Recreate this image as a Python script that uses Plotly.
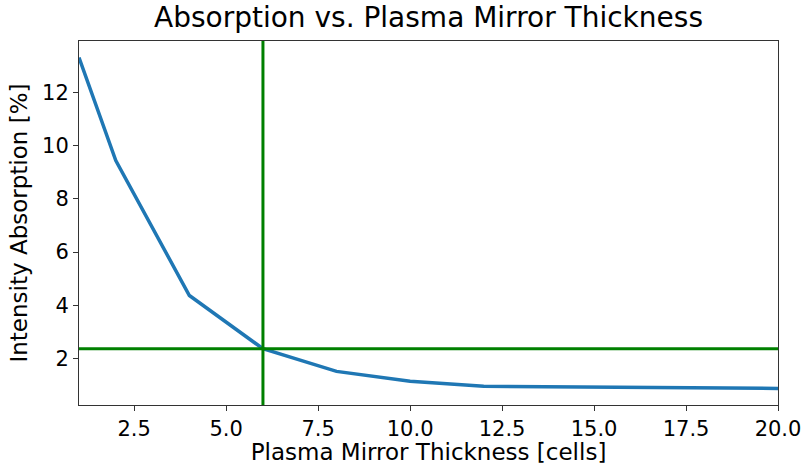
import plotly.graph_objects as go

# Absorption of intensity versus plasma mirror thickness
thickness_cells = [1, 2, 4, 6, 8, 10, 12, 20]
absorption_pct = [13.3, 9.43, 4.37, 2.37, 1.52, 1.15, 0.96, 0.88]

# Chosen operating point (thickness and its absorption)
chosen_thickness = 6
chosen_absorption = 2.37

x_ticks = [2.5, 5.0, 7.5, 10.0, 12.5, 15.0, 17.5, 20.0]
y_ticks = [2, 4, 6, 8, 10, 12]

FONT = "DejaVu Sans"

fig = go.Figure()
fig.add_trace(go.Scatter(
    x=thickness_cells, y=absorption_pct, mode="lines",
    line=dict(color="#1f77b4", width=3.5), showlegend=False,
))

fig.add_vline(x=chosen_thickness, line=dict(color="#008000", width=3))
fig.add_hline(y=chosen_absorption, line=dict(color="#008000", width=3))

# Matplotlib-style 5% margins around the data
ymin, ymax = min(absorption_pct), max(absorption_pct)
pad = 0.05 * (ymax - ymin)

axis_common = dict(
    showgrid=False, zeroline=False, showline=True, mirror=True,
    linecolor="#333333", linewidth=1, automargin=False,
    ticks="outside", ticklen=5, tickwidth=1, tickcolor="#333333",
    tickfont=dict(family=FONT, size=21, color="black"),
)

fig.update_layout(
    width=805, height=465,
    margin=dict(l=79, r=27, t=41, b=60),
    paper_bgcolor="white", plot_bgcolor="white",
    title=dict(
        text="Absorption vs. Plasma Mirror Thickness",
        font=dict(family=FONT, size=28, color="black"),
        x=0.5, xanchor="center", xref="paper", y=0.985, yanchor="top",
    ),
    xaxis=dict(
        range=[min(thickness_cells), max(thickness_cells)],
        tickvals=x_ticks, ticktext=[f"{v:.1f}" for v in x_ticks],
        title=dict(text="Plasma Mirror Thickness [cells]",
                   font=dict(family=FONT, size=23, color="black"), standoff=4),
        **axis_common,
    ),
    yaxis=dict(
        range=[ymin - pad, ymax + pad],
        tickvals=y_ticks, ticktext=[str(v) for v in y_ticks],
        title=dict(text="Intensity Absorption [%]",
                   font=dict(family=FONT, size=23, color="black"), standoff=8),
        **axis_common,
    ),
)

fig.write_html("out.html")
